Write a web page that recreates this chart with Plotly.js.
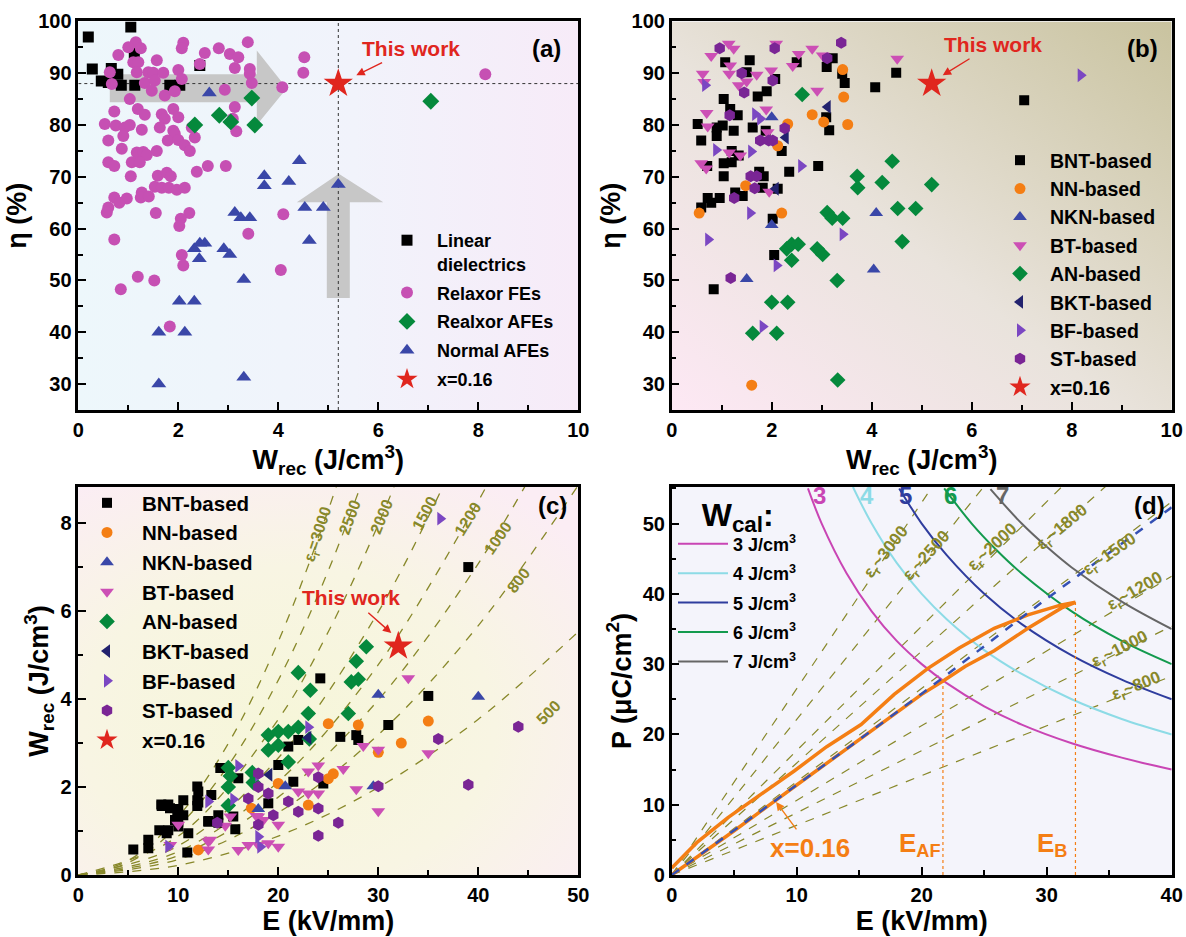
<!DOCTYPE html>
<html><head><meta charset="utf-8">
<script src="https://cdn.plot.ly/plotly-3.0.1.min.js"></script>
<style>html,body{margin:0;padding:0;background:#fff}#chart{width:1186px;height:937px}</style>
</head><body><div id="chart"></div>
<script>
// ---------------- Panel (a) : eta vs Wrec by material class ----------------
const aLinW   = [0.2,1.05,0.28,0.66,0.79,0.46,0.86,1.13,1.83,2.03,2.43,1.12,0.6];
const aLinEta = [97,98.9,90.8,90.9,89.8,88.5,87.7,87.7,87.7,87.7,91.5,93.9,88.2];
const aRfeW   = [1.15,1.0,1.25,0.8,1.1,1.2,1.57,2.1,2.07,2.53,2.43,2.81,3.03,3.2,3.39,3.13,3.43,3.43,3.47,2.93,4.08,4.52,4.5,0.63,0.67,1.17,1.4,1.5,1.7,2.0,2.07,1.33,1.53,1.47,1.73,1.93,1.03,0.72,1.19,1.33,1.67,1.73,1.9,2.0,0.53,0.75,0.93,1.03,1.27,1.63,1.9,1.93,0.6,0.9,1.79,2.0,2.13,2.23,2.33,2.27,0.87,1.17,1.3,1.37,1.57,1.07,1.23,0.6,0.72,2.37,2.59,2.95,1.59,1.77,1.85,1.05,1.53,1.67,1.81,1.97,2.13,1.27,0.72,0.97,0.82,1.25,1.41,0.6,0.57,1.55,2.22,2.05,2.02,4.1,3.4,0.72,2.07,2.1,1.19,1.52,0.85,4.05,1.83,8.14,3.13,3.09,3.16];
const aRfeEta = [96.0,95.0,94.8,93.5,92.1,92.1,92.5,95.9,94.8,93.9,91.8,94.8,93.7,93.1,96.0,91.0,90.8,89.9,88.1,86.8,87.3,93.1,90.1,90.2,87.9,90.2,90.2,90.1,90.1,90.6,88.9,88.1,88.6,86.6,85.7,86.5,85.0,82.6,83.1,82.0,82.1,81.2,83.1,81.5,80.2,79.9,79.5,80.0,79.1,79.5,78.9,78.3,77.0,77.9,77.0,77.1,76.1,75.0,77.6,79.5,75.4,74.7,74.8,74.2,75.0,72.8,72.8,72.8,72.1,71.0,72.1,72.1,70.2,70.8,70.1,70.1,68.1,67.9,67.9,67.5,67.9,67.0,66.0,65.8,65.0,66.0,66.2,64.1,63.1,63.0,63.0,61.9,60.5,62.8,59.0,57.9,54.9,52.9,50.7,50.0,48.3,52.0,41.1,89.8,83.5,81.2,78.8];
const aRafeW   = [3.47,2.82,3.05,3.53,2.33,7.05];
const aRafeEta = [85.2,81.9,80.6,80.0,80.0,84.6];
const aNafeW   = [2.62,4.42,3.72,3.72,4.21,5.2,3.13,3.25,3.43,4.53,4.9,4.62,2.32,2.43,2.53,2.91,3.03,2.42,3.31,2.02,2.32,1.61,2.13,1.61,3.31];
const aNafeEta = [86.2,73.1,70.2,68.3,69.1,68.5,63.1,62.1,62.1,64.1,64.1,57.7,56.1,57.2,57.2,56.1,55.0,54.2,50.2,46.0,46.0,40.0,40.0,30.0,31.3];
const thisW   = [5.2];
const thisEta = [88];
const aNames = ['Linear<br>dielectrics','Relaxor FEs','Realxor AFEs','Normal AFEs','x=0.16'];

// ---------------- Panel (b) : eta vs Wrec by material system ----------------
const famNames = ['BNT-based','NN-based','NKN-based','BT-based','AN-based','BKT-based','BF-based','ST-based','x=0.16'];
const bBntW   = [1.56,1.07,1.5,2.07,1.04,1.72,1.9,1.17,1.32,0.52,0.9,1.02,1.24,1.62,0.9,0.59,1.88,2.2,1.2,1.34,1.04,1.2,0.71,1.04,1.75,1.84,2.35,2.93,1.82,2.12,1.27,1.42,0.96,0.72,0.79,0.59,2.02,2.05,0.84,2.5,3.1,3.22,3.41,3.46,4.07,4.49,3.09,3.15,7.05];
const bBntEta = [92.5,92.1,90.2,88.9,85.0,85.5,86.5,83.1,81.9,80.2,79.5,79.9,78.9,79.5,77.9,77.0,78.9,75.0,75.0,74.1,72.6,72.8,72.1,70.1,71.0,70.1,71.0,72.1,67.9,67.7,67.0,66.3,65.9,65.9,65.0,64.1,61.9,54.9,48.3,92.1,91.2,92.9,89.9,88.1,87.3,90.1,81.5,79.0,84.8];
const bNnW    = [3.42,3.44,2.81,3.04,3.52,2.32,2.12,1.48,0.55,2.2,1.6];
const bNnEta  = [90.7,85.4,82.0,80.6,80.1,80.2,76.0,68.3,63.0,63.0,29.8];
const bNknW   = [2.0,2.0,1.5,4.09,4.04];
const bNknEta = [81.5,60.7,50.3,63.0,52.1];
const bBtW    = [1.14,1.24,0.79,2.09,2.54,2.81,3.02,2.42,4.51,0.62,1.15,1.7,1.99,1.5,1.34,0.65,2.91,1.89,0.7,0.72,1.92,1.15,1.37,0.59,0.69,1.95,1.17];
const bBtEta  = [95.7,94.7,93.3,95.7,93.7,94.7,93.4,91.4,92.8,89.9,89.9,89.7,90.5,88.4,87.7,88.3,86.6,83.0,82.3,79.7,78.6,74.7,74.1,72.6,71.6,67.1,91.5];
const bAnW    = [2.61,4.41,3.71,3.72,4.21,5.2,3.11,3.21,3.42,4.52,4.88,4.61,2.3,2.4,2.53,2.91,3.02,2.4,3.31,2.0,2.32,1.62,2.1,3.32];
const bAnEta  = [85.9,73.0,70.1,67.9,68.9,68.5,63.1,62.0,62.0,63.9,63.9,57.5,56.1,57.0,57.0,56.1,55.0,53.9,50.0,45.8,45.8,39.8,39.8,30.8];
const bBktW   = [3.12,2.28,2.08];
const bBktEta = [83.5,77.6,67.7];
const bBfW    = [0.67,1.67,1.77,0.89,1.59,2.59,1.57,0.73,3.42,2.1,8.18,1.82];
const bBfEta  = [87.7,82.1,81.2,75.2,74.9,72.1,63.0,57.9,58.9,52.9,89.6,41.1];
const bStW    = [0.96,2.06,3.39,3.11,1.4,2.02,1.45,1.16,2.26,1.77,1.94,2.02,1.58,1.7,1.66,1.25,1.18];
const bStEta  = [94.8,94.8,95.9,92.9,90.0,88.6,86.3,81.9,79.4,77.0,77.0,77.0,70.1,70.1,67.8,65.9,50.5];

// ---------------- Panel (c) : Wrec vs E ----------------
const cBntE = [5.5,7.0,7.0,8.1,8.34,9.17,10.5,9.9,9.67,10.0,11.0,8.84,10.9,11.9,11.9,13.3,11.9,13.0,14.0,14.2,15.5,15.7,19.0,20.0,21.0,21.5,22.0,24.2,24.5,26.2,27.8,28.0,35.0,31.0,16.0,9.0,10.0,10.5,10.0,9.0,13.0,14.0,39.0,12.0,12.0,8.3];
const cBntW = [0.58,0.61,0.80,1.02,1.57,1.52,1.7,1.44,1.25,1.1,0.95,0.95,0.51,2.01,1.70,1.82,1.57,1.21,1.36,2.43,1.33,1.04,1.63,2.5,2.92,2.12,3.07,4.47,2.08,3.14,3.18,3.07,4.07,3.41,2.2,1.6,1.5,1.36,1.21,1.02,1.23,1.19,7.0,1.9,1.65,1.6];
const cNnE  = [12.0,17.3,20.0,23.0,25.0,25.5,25.0,28.0,30.0,32.3,35.0];
const cNnW  = [0.57,1.52,2.08,1.59,2.19,2.3,3.44,3.41,2.79,3.0,3.5];
const cNknE = [30.0,40.0,20.7,29.5,18.0];
const cNknW = [4.1,4.05,2.02,2.02,1.5];
const cBtE  = [10.0,13.0,13.0,15.2,14.7,16.0,17.0,18.0,19.0,20.0,20.0,18.0,22.0,23.0,24.0,23.0,24.0,26.5,27.8,28.5,30.0,30.0,35.0,33.0,9.2,13.2,17.8,18.5];
const cBtW  = [1.14,0.76,0.58,1.33,1.12,0.57,0.68,0.68,0.72,0.64,1.14,1.33,1.9,2.35,2.49,1.85,1.85,2.41,1.95,2.93,2.85,1.45,2.77,4.47,0.68,0.8,1.34,1.25];
const cAnE  = [22.0,23.2,27.8,28.0,27.3,28.8,23.0,27.0,19.0,20.0,21.0,22.0,19.0,20.0,21.0,15.0,15.2,17.4,15.0,17.5,15.0,23.1];
const cAnW  = [4.6,4.2,4.86,4.45,4.39,5.19,3.67,3.67,3.18,3.26,3.26,3.36,2.84,2.95,2.57,2.44,2.25,2.33,2.0,2.1,1.58,3.09];
const cBktE = [23.0,19.1];
const cBktW = [3.12,2.28];
const cBfE  = [16.0,23.0,13.0,15.5,18.0,18.0,18.2,9.0,36.2];
const cBfW  = [2.48,3.36,1.67,1.72,2.27,0.87,0.64,0.65,8.1];
const cStE  = [18.0,19.0,17.0,18.0,21.0,19.5,18.0,13.9,22.0,24.0,24.0,26.0,24.0,30.0,36.0,39.0,44.0];
const cStW  = [2.31,1.85,1.74,2.0,1.67,1.36,1.14,1.19,1.44,2.22,1.51,1.19,0.89,2.02,3.09,2.05,3.37];
const thisE  = [32];
const thisWc = [5.2];
// linear-dielectric guide curves
const cEpsLabels = ['3000','2500','2000','1500','1200','1000','800','500'];
const cGuideE = [[0,5,10,15,20,25,27],[0,5,10,15,20,25,30],[0,10,20,25,30,33],[0,10,20,30,37],[0,10,20,30,40,42],[0,10,20,30,40,46],[0,10,20,30,40,50],[0,10,20,30,40,50]];
const cGuideW = [[0,0.33,1.33,2.99,5.31,8.3,9.68],[0,0.28,1.11,2.49,4.43,6.92,9.96],[0,0.885,3.54,5.53,7.97,9.64],[0,0.664,2.66,5.98,9.09],[0,0.531,2.12,4.78,8.5,9.37],[0,0.443,1.77,3.98,7.08,9.37],[0,0.354,1.42,3.19,5.67,8.86],[0,0.221,0.885,1.99,3.54,5.53]];

// ---------------- Panel (d) : P-E ----------------
const dEpsLabels = ['3000','2500','2000','1800','1500','1200','1000','800'];
const dEpsEndE = [40,40,40,40,40,40,40,40];
const dEpsEndP = [106,88.5,70.8,63.7,53.1,42.5,35.4,28.3];
const wcalNames = ['3 J/cm<sup>3</sup>','4 J/cm<sup>3</sup>','5 J/cm<sup>3</sup>','6 J/cm<sup>3</sup>','7 J/cm<sup>3</sup>'];
const wcalE = [[10.9,12,14,16,18,20,22,25,28,32,36,40],[14.5,16,18,20,22,25,28,32,36,40],[18.2,20,22,25,28,32,36,40],[21.8,24,26,28,32,36,40],[25.5,28,30,32,36,40]];
const wcalP = [[55,50,42.9,37.5,33.3,30,27.3,24,21.4,18.75,16.7,15],[55.2,50,44.4,40,36.4,32,28.6,25,22.2,20],[55,50,45.5,40,35.7,31.25,27.8,25],[55,50,46.2,42.9,37.5,33.3,30],[54.9,50,46.7,43.75,38.9,35]];
const loopE = [0,5,10,15,20,21.8,23.5,25.8,28.5,31.2,32.3,31.1,28.5,25.8,23,20.5,17.8,15.15,12.4,9.8,4.47,2,0];
const loopP = [0,6.3,12.8,19.3,25.7,27.7,29.7,31.9,35.1,38.0,38.8,38.4,37.0,35.1,32.3,29.4,25.7,21.4,18.25,14.8,8.14,4.6,1.0];
const fitE = [0,10,20,30,40];
const fitP = [0,12.8,25.8,39.3,52.3];
const eAF = 21.7, pAF = 27.7, eB = 32.3, pB = 38.8;

// ---------------- styling ----------------
const F = 'Liberation Sans, Arial, Helvetica, sans-serif';
const fnt = (s, c) => ({family: F, size: s, color: c || '#000', weight: 'bold'});
const COL = {black:'#000000', mag:'#c650b3', green:'#05893c', blue:'#3a47a8', orange:'#f47e14',
  bt:'#cc4fb5', bkt:'#22226e', bf:'#7b47c2', st:'#7a2595', red:'#e0261e', olive:'#88882a'};
const famSym = ['square','circle','triangle-up','triangle-down','diamond','triangle-left','triangle-right','hexagon'];
const famCol = [COL.black, COL.orange, COL.blue, COL.bt, COL.green, COL.bkt, COL.bf, COL.st];
const famSize = [10,11,12,12,12,12,12,12];

function sc(x, y, xa, ya, name, sym, size, color, legend) {
  return {type:'scatter', mode:'markers', x:x, y:y, xaxis:xa, yaxis:ya, name:name, legend:legend, legendgroup:legend + name,
    marker:{symbol:sym, size:size, color:color, line:{width:0}}, hoverinfo:'x+y'};
}
const traces = [];
// (a)
traces.push(sc(aLinW, aLinEta, 'x', 'y', aNames[0], 'square', 11, COL.black, 'legend'));
traces.push(sc(aRfeW, aRfeEta, 'x', 'y', aNames[1], 'circle', 12, COL.mag, 'legend'));
traces.push(sc(aRafeW, aRafeEta, 'x', 'y', aNames[2], 'diamond', 13, COL.green, 'legend'));
traces.push(sc(aNafeW, aNafeEta, 'x', 'y', aNames[3], 'triangle-up', 13, COL.blue, 'legend'));
traces.push(sc(thisW, thisEta, 'x', 'y', aNames[4], 'star', 22, COL.red, 'legend'));
// (b)
const bX = [bBntW,bNnW,bNknW,bBtW,bAnW,bBktW,bBfW,bStW];
const bY = [bBntEta,bNnEta,bNknEta,bBtEta,bAnEta,bBktEta,bBfEta,bStEta];
for (let i = 0; i < 8; i++) traces.push(sc(bX[i], bY[i], 'x2', 'y2', famNames[i], famSym[i], famSize[i], famCol[i], 'legend2'));
traces.push(sc(thisW, thisEta, 'x2', 'y2', famNames[8], 'star', 22, COL.red, 'legend2'));
// (c)
for (let i = 0; i < cGuideE.length; i++) traces.push({type:'scatter', mode:'lines', x:cGuideE[i], y:cGuideW[i], xaxis:'x3', yaxis:'y3',
  showlegend:false, hoverinfo:'skip', line:{color:COL.olive, width:1.3, dash:'dash', shape:'spline'}});
const cX = [cBntE,cNnE,cNknE,cBtE,cAnE,cBktE,cBfE,cStE];
const cY = [cBntW,cNnW,cNknW,cBtW,cAnW,cBktW,cBfW,cStW];
for (let i = 0; i < 8; i++) traces.push(sc(cX[i], cY[i], 'x3', 'y3', famNames[i], famSym[i], famSize[i], famCol[i], 'legend3'));
traces.push(sc(thisE, thisWc, 'x3', 'y3', famNames[8], 'star', 22, COL.red, 'legend3'));
// (d)
for (let i = 0; i < dEpsEndE.length; i++) traces.push({type:'scatter', mode:'lines', x:[0, dEpsEndE[i]], y:[0, dEpsEndP[i]], xaxis:'x4', yaxis:'y4',
  showlegend:false, hoverinfo:'skip', line:{color:COL.olive, width:1.2, dash:'dash'}});
const wcalCol = ['#c945b4','#8ddbe6','#2f3d9e','#139a4e','#666666'];
for (let i = 0; i < 5; i++) traces.push({type:'scatter', mode:'lines', x:wcalE[i], y:wcalP[i], xaxis:'x4', yaxis:'y4', name:wcalNames[i],
  legend:'legend4', legendgroup:'w' + i, line:{color:wcalCol[i], width:2, shape:'spline'}});
traces.push({type:'scatter', mode:'lines', x:[eAF,eAF], y:[0,pAF], xaxis:'x4', yaxis:'y4', showlegend:false, line:{color:COL.orange, width:1.2, dash:'dot'}});
traces.push({type:'scatter', mode:'lines', x:[eB,eB], y:[0,pB], xaxis:'x4', yaxis:'y4', showlegend:false, line:{color:COL.orange, width:1.2, dash:'dot'}});
traces.push({type:'scatter', mode:'lines', x:loopE, y:loopP, xaxis:'x4', yaxis:'y4', showlegend:false, line:{color:COL.orange, width:3.5}});
traces.push({type:'scatter', mode:'lines', x:fitE, y:fitP, xaxis:'x4', yaxis:'y4', showlegend:false, line:{color:'#3450b4', width:2.5, dash:'dash', shape:'spline'}});

// ---------------- axes ----------------
const W = 1186, H = 937;
const px = v => v / W, py = v => 1 - v / H;
function ax(domain, range, dtick, minor, anchor, title) {
  return {domain:domain, range:range, dtick:dtick, tick0:0, anchor:anchor, showline:true, linewidth:2.5, linecolor:'#000',
    mirror:true, ticks:'inside', ticklen:8, tickwidth:2, tickcolor:'#000', showgrid:false, zeroline:false, automargin:false,
    tickfont:fnt(20), minor:{dtick:minor, ticks:'inside', ticklen:5, tickwidth:2, tickcolor:'#000', showgrid:false},
    title:{text:title, font:fnt(27), standoff:4}};
}
const xTop = [px(78.3), px(578.3)], xTopR = [px(671.7), px(1171.7)];
const yTop = [py(410), py(21.4)], yBot = [py(875), py(487)];
const wrecT = 'W<sub>rec</sub> (J/cm<sup>3</sup>)';
const eT = 'E (kV/mm)';

function bgImg(xr, yr, svg) {
  return {source:'data:image/svg+xml;charset=utf-8,' + encodeURIComponent(svg), xref:xr + ' domain', yref:yr + ' domain',
    x:0, y:1, sizex:1, sizey:1, sizing:'stretch', xanchor:'left', yanchor:'top', layer:'below'};
}
const svgA = "<svg xmlns='http://www.w3.org/2000/svg' width='500' height='390' preserveAspectRatio='none'><defs><linearGradient id='g' x1='0' y1='0' x2='1' y2='0'><stop offset='0' stop-color='#edf7fb'/><stop offset='0.55' stop-color='#f1f3fb'/><stop offset='1' stop-color='#f7ebf8'/></linearGradient></defs><rect width='500' height='390' fill='url(#g)'/></svg>";
const svgB = "<svg xmlns='http://www.w3.org/2000/svg' width='500' height='390' preserveAspectRatio='none'><defs><linearGradient id='g' x1='0' y1='1' x2='1' y2='0'><stop offset='0' stop-color='#fde8f4'/><stop offset='0.45' stop-color='#e9e3dc'/><stop offset='1' stop-color='#c9c39f'/></linearGradient></defs><rect width='500' height='390' fill='url(#g)'/></svg>";
const svgC = "<svg xmlns='http://www.w3.org/2000/svg' width='500' height='390' preserveAspectRatio='none'><defs><radialGradient id='g' cx='0.42' cy='0.62' r='0.75'><stop offset='0' stop-color='#f6f6d9'/><stop offset='0.55' stop-color='#f8f5e3'/><stop offset='1' stop-color='#fbedf4'/></radialGradient></defs><rect width='500' height='390' fill='url(#g)'/></svg>";

// ---------------- annotations ----------------
const ann = [];
function txt(xr, yr, x, y, t, size, color, extra) {
  ann.push(Object.assign({xref:xr, yref:yr, x:x, y:y, text:t, showarrow:false, font:fnt(size, color)}, extra || {}));
}
// text placed at (tx,ty) with an arrow pointing to (hx,hy)
function txtArrow(xr, yr, hx, hy, tx, ty, t, size, color) {
  ann.push({xref:xr, yref:yr, axref:xr, ayref:yr, x:hx, y:hy, ax:tx, ay:ty, text:t, font:fnt(size, color), showarrow:true,
    arrowhead:2, arrowsize:1.2, arrowwidth:1.4, arrowcolor:color, standoff:0, startstandoff:3});
}
txtArrow('x','y', 5.56, 89.6, 6.66, 94.8, 'This work', 21, COL.red);
txt('x','y', 9.36, 94.8, '(a)', 24);
txtArrow('x2','y2', 5.42, 89.6, 6.43, 95.6, 'This work', 21, COL.red);
txt('x2','y2', 9.42, 94.8, '(b)', 24);
txtArrow('x3','y3', 31.3, 5.5, 27.3, 6.3, 'This work', 21, COL.red);
txt('x3','y3', 47.4, 8.4, '(c)', 24);
txt('x4','y4', 38.2, 52.6, '(d)', 24);
// guide labels (c)
const cLabPos = [[24.0,7.74,-72],[27.2,8.14,-70],[30.3,8.16,-68],[34.7,8.23,-62],[39.0,8.1,-58],[42.0,7.67,-55],[44.0,6.7,-52],[47.0,3.7,-45]];
cEpsLabels.forEach((l, i) => txt('x3','y3', cLabPos[i][0], cLabPos[i][1], (i === 0 ? '\u03b5<sub>r</sub>=' : '') + l, 16, COL.olive, {textangle:cLabPos[i][2]}));
// guide labels (d)
const dLabPos = [[17.2,45.8,-52],[20.4,45.3,-48],[25.7,46.5,-43],[31.3,49.3,-40],[35.1,45.5,-35],[37.1,40.3,-30],[35.9,32.0,-27],[37.2,26.8,-22]];
dEpsLabels.forEach((l, i) => txt('x4','y4', dLabPos[i][0], dLabPos[i][1], '\u03b5<sub>r</sub>~' + l, 17, COL.olive, {textangle:dLabPos[i][2]}));
const wcalLab = ['3','4','5','6','7'];
const wcalLabE = [11.85,15.6,18.7,22.3,26.5];
wcalLab.forEach((l, i) => txt('x4','y4', wcalLabE[i], 54, l, 24, wcalCol[i]));
txtArrow('x4','y4', 8.35, 10.4, 11.1, 3.8, 'x=0.16', 26, COL.orange);
txt('x4','y4', 19.9, 4.3, 'E<sub>AF</sub>', 26, COL.orange);
txt('x4','y4', 30.4, 4.3, 'E<sub>B</sub>', 26, COL.orange);

// ---------------- shapes (a) ----------------
const shapes = [
  {type:'path', xref:'x', yref:'y', layer:'between', path:'M0.63,84.4 L3.57,84.4 L3.57,80.0 L4.17,87.1 L3.57,94.4 L3.57,89.8 L0.63,89.8 Z', fillcolor:'#c7c7c7', line:{width:0}},
  {type:'path', xref:'x', yref:'y', layer:'between', path:'M4.97,46.6 L5.43,46.6 L5.43,65.1 L6.1,65.1 L5.21,70.6 L4.37,65.1 L4.97,65.1 Z', fillcolor:'#c7c7c7', line:{width:0}},
  {type:'line', xref:'x', yref:'y', layer:'between', x0:0, x1:10, y0:thisEta[0], y1:thisEta[0], line:{color:'#333', width:1, dash:'dot'}},
  {type:'line', xref:'x', yref:'y', layer:'between', x0:thisW[0], x1:thisW[0], y0:25, y1:100, line:{color:'#333', width:1, dash:'dot'}}
];

const legBase = {xanchor:'left', yanchor:'top', bgcolor:'rgba(0,0,0,0)', borderwidth:0, itemwidth:50, valign:'top', itemclick:false, itemdoubleclick:false, tracegroupgap:0};
const layout = {
  width:W, height:H, margin:{l:0, r:0, t:0, b:0}, paper_bgcolor:'#ffffff', plot_bgcolor:'#f4f4fb',
  font:fnt(18), showlegend:true, hovermode:'closest',
  xaxis: ax(xTop, [0,10], 2, 1, 'y', wrecT),
  yaxis: ax(yTop, [25,100], 10, 5, 'x', '\u03b7 (%)'),
  xaxis2: ax(xTopR, [0,10], 2, 1, 'y2', wrecT),
  yaxis2: ax(yTop, [25,100], 10, 5, 'x2', '\u03b7 (%)'),
  xaxis3: ax(xTop, [0,50], 10, 5, 'y3', eT),
  yaxis3: ax(yBot, [0,8.82], 2, 1, 'x3', wrecT),
  xaxis4: ax(xTopR, [0,40], 10, 5, 'y4', eT),
  yaxis4: ax(yBot, [0,55.2], 10, 5, 'x4', 'P (\u03bcC/cm<sup>2</sup>)'),
  legend: Object.assign({}, legBase, {x:px(377), y:py(222), font:fnt(18), tracegroupgap:2.5}),
  legend2: Object.assign({}, legBase, {x:px(990), y:py(141), font:fnt(19.5)}),
  legend3: Object.assign({}, legBase, {x:px(72), y:py(483), font:fnt(20.5), itemwidth:60}),
  legend4: Object.assign({}, legBase, {x:px(673), y:py(484), font:fnt(18), tracegroupgap:3,
    title:{text:'&nbsp;&nbsp;&nbsp;W<sub>cal</sub>:', font:fnt(32)}}),
  images: [bgImg('x','y', svgA), bgImg('x2','y2', svgB), bgImg('x3','y3', svgC)],
  annotations: ann, shapes: shapes
};
Plotly.newPlot('chart', traces, layout, {displayModeBar:false});
</script></body></html>
